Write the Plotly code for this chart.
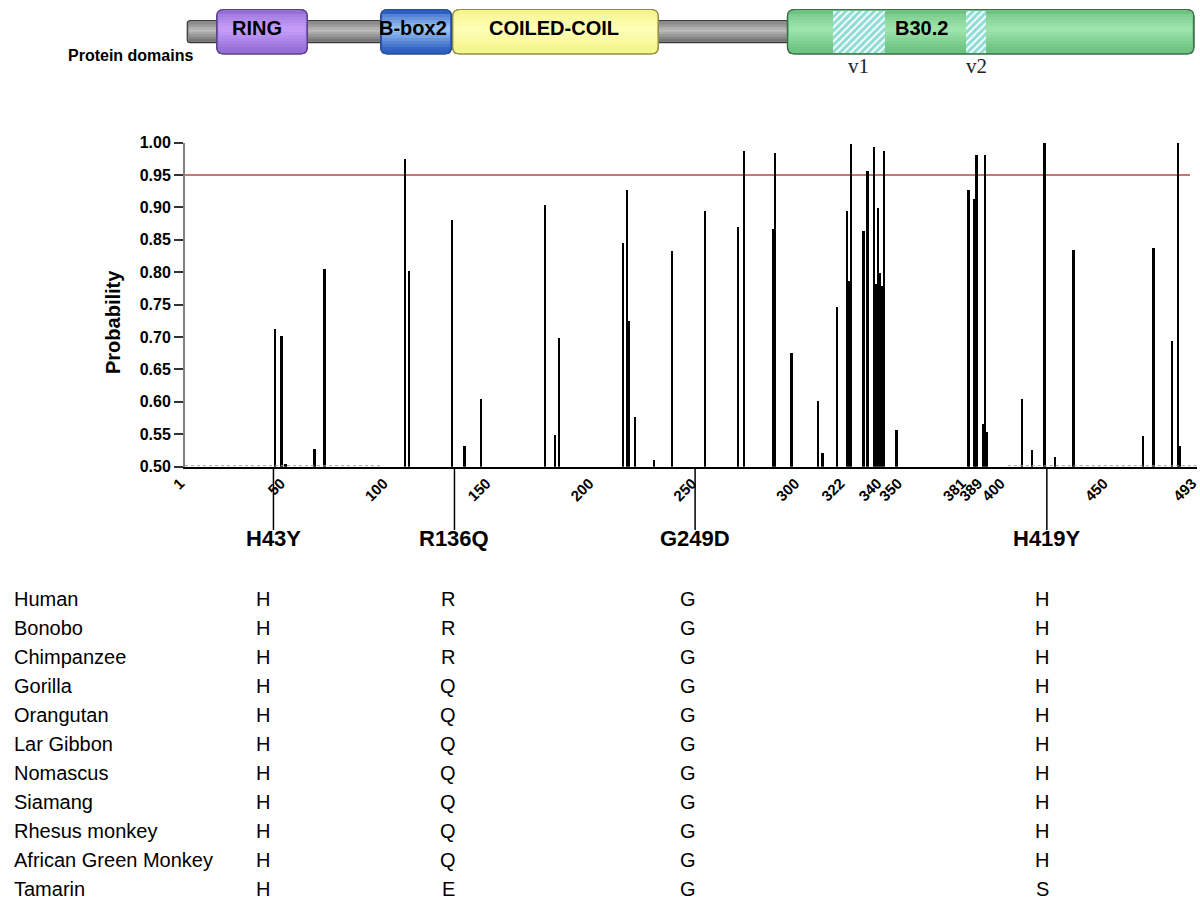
import plotly.graph_objects as go

# ---------------- data ----------------
positions = [45, 48, 50, 64, 69, 108, 110, 131, 137, 145, 176, 181, 183,
             214, 216, 217, 220, 229, 238, 254, 270, 273, 287, 288, 296,
             309, 311, 318, 323, 324, 325, 331, 333, 336, 337, 338, 339,
             340, 341, 347, 382, 385, 386, 389, 390, 391, 408, 413, 419,
             424, 433, 467, 472, 481, 484, 485]
probabilities = [0.713, 0.702, 0.505, 0.528, 0.805, 0.976, 0.803, 0.881, 0.532,
                 0.605, 0.904, 0.550, 0.699, 0.846, 0.928, 0.725, 0.578, 0.511,
                 0.834, 0.895, 0.871, 0.988, 0.867, 0.985, 0.676, 0.602, 0.522,
                 0.747, 0.895, 0.787, 0.999, 0.864, 0.957, 0.994, 0.782, 0.900,
                 0.800, 0.780, 0.988, 0.557, 0.927, 0.913, 0.981, 0.567, 0.981,
                 0.554, 0.605, 0.527, 1.000, 0.515, 0.835, 0.548, 0.838, 0.695,
                 1.000, 0.533]
low_prob_start = [1, 401]
low_prob_end = [97, 493]
low_prob_value = 0.5015
threshold = 0.95

x_tick_vals = [1, 50, 100, 150, 200, 250, 300, 322, 340, 350, 381, 389, 400, 450, 493]
y_tick_vals = [0.50, 0.55, 0.60, 0.65, 0.70, 0.75, 0.80, 0.85, 0.90, 0.95, 1.00]
y_tick_text = ["0.50", "0.55", "0.60", "0.65", "0.70", "0.75", "0.80", "0.85",
               "0.90", "0.95", "1.00"]

domain_names = ["RING", "B-box2", "COILED-COIL", "B30.2"]
domain_start = [16.4, 96.1, 131.1, 293.9]
domain_end = [60.5, 130.6, 231.1, 491.5]
domain_label_pos = [36.2, 111.8, 180.2, 359.0]
domain_edge_fill = [(150, 110, 215), (45, 95, 195), (245, 245, 140), (110, 195, 130)]
domain_mid_fill = [(200, 160, 250), (160, 200, 245), (255, 255, 185), (160, 230, 175)]
domain_edges = ["#5b4283", "#2b4d8f", "#8f8f4a", "#3c6e48"]
backbone_start = 2.1
backbone_end = 491.0

var_names = ["v1", "v2"]
var_start = [316.0, 380.9]
var_end = [341.3, 390.4]

mutations = ["H43Y", "R136Q", "G249D", "H419Y"]
mutation_pos = [44, 132, 249, 420]

species = ["Human", "Bonobo", "Chimpanzee", "Gorilla", "Orangutan", "Lar Gibbon",
           "Nomascus", "Siamang", "Rhesus monkey", "African Green Monkey", "Tamarin"]
res_43 = ["H", "H", "H", "H", "H", "H", "H", "H", "H", "H", "H"]
res_136 = ["R", "R", "R", "Q", "Q", "Q", "Q", "Q", "Q", "Q", "E"]
res_249 = ["G", "G", "G", "G", "G", "G", "G", "G", "G", "G", "G"]
res_419 = ["H", "H", "H", "H", "H", "H", "H", "H", "H", "H", "S"]

# ---------------- layout helpers ----------------
W, H = 1200, 900
FONT = "Liberation Sans, Arial, sans-serif"
XPX = 1012 / 492  # pixels per residue


def py(p):
    return 1 - p / H


def px(p):
    return p / W


def rgb(c):
    return f"rgb({int(c[0])},{int(c[1])},{int(c[2])})"


def mix(a, b, t):
    return tuple(a[i] + (b[i] - a[i]) * t for i in range(3))


fig = go.Figure()

# low-probability background (dotted)
for s, e in zip(low_prob_start, low_prob_end):
    fig.add_trace(go.Scatter(x=[s, e], y=[low_prob_value, low_prob_value], mode="lines",
                             line=dict(color="#9a9a9a", width=1, dash="dot"),
                             hoverinfo="skip", showlegend=False))

fig.add_trace(go.Bar(x=positions, y=probabilities, width=0.9,
                     marker=dict(color="black", line=dict(width=0)),
                     showlegend=False))

# hatch variable regions (on top axis)
fig.add_trace(go.Bar(x=[(s + e) / 2 for s, e in zip(var_start, var_end)],
                     y=[1, 1], base=[0, 0],
                     width=[e - s for s, e in zip(var_start, var_end)],
                     marker=dict(color="#8fdcd6", line=dict(width=0),
                                 pattern=dict(shape="/", fgcolor="white", bgcolor="#8fdcd6",
                                              size=5, solidity=0.35)),
                     xaxis="x2", yaxis="y2", showlegend=False, hoverinfo="skip"))

shapes = []
annotations = []

# threshold line
shapes.append(dict(type="line", xref="x", yref="y", x0=1, x1=489.6, y0=threshold, y1=threshold,
                   line=dict(color="#c97575", width=2), layer="below"))


def rounded(x0, x1, y0, y1, rpx=6):
    rx = rpx / XPX
    ry = rpx / H
    return (f"M {x0+rx},{y1} L {x1-rx},{y1} Q {x1},{y1} {x1},{y1-ry} "
            f"L {x1},{y0+ry} Q {x1},{y0} {x1-rx},{y0} L {x0+rx},{y0} "
            f"Q {x0},{y0} {x0},{y0+ry} L {x0},{y1-ry} Q {x0},{y1} {x0+rx},{y1} Z")


def gradient_bands(x0, x1, top, bottom, edge, mid, n=10, inset_px=2):
    out = []
    h = (bottom - top) / n
    for k in range(n):
        c = (k + 0.5) / n
        t = max(0.0, 1 - abs(c - 0.42) / 0.58)
        col = mix(edge, mid, t)
        out.append(dict(type="rect", xref="x", yref="paper",
                        x0=x0 + inset_px / XPX, x1=x1 - inset_px / XPX,
                        y0=py(top + (k + 1) * h + 0.3), y1=py(top + k * h),
                        fillcolor=rgb(col), line=dict(width=0), layer="below"))
    return out


# backbone
shapes.append(dict(type="path", xref="x", yref="paper",
                   path=rounded(backbone_start, backbone_end, py(42.7), py(20.5), 3),
                   fillcolor="#8a8a8a", line=dict(color="#3a3a3a", width=1.2), layer="below"))
shapes += gradient_bands(backbone_start, backbone_end, 22, 41.5, (110, 110, 110),
                         (190, 190, 190), n=8, inset_px=1.5)
for n, s, e, ce, cm, ec in zip(domain_names, domain_start, domain_end,
                               domain_edge_fill, domain_mid_fill, domain_edges):
    shapes.append(dict(type="path", xref="x", yref="paper",
                       path=rounded(s, e, py(54), py(9.5), 7),
                       fillcolor=rgb(ce), line=dict(color=ec, width=1.2), layer="below"))
    shapes += gradient_bands(s, e, 14, 50, ce, cm, n=12, inset_px=1.5)
for s, e, ec in zip(domain_start, domain_end, domain_edges):
    shapes.append(dict(type="path", xref="x", yref="paper",
                       path=rounded(s, e, py(54), py(9.5), 7),
                       fillcolor="rgba(0,0,0,0)", line=dict(color=ec, width=1.2),
                       layer="below"))

for n, p in zip(domain_names, domain_label_pos):
    annotations.append(dict(text=f"<b>{n}</b>", x=p, y=py(28.5), xref="x", yref="paper",
                            showarrow=False, font=dict(family=FONT, size=20, color="black"),
                            xanchor="center", yanchor="middle"))
for n, s, e in zip(var_names, var_start, var_end):
    annotations.append(dict(text=n, x=(s + e) / 2, y=py(66), xref="x", yref="paper",
                            showarrow=False,
                            font=dict(family="Liberation Serif, Times New Roman, serif",
                                      size=21, color="#222"),
                            xanchor="center", yanchor="middle"))
annotations.append(dict(text="<b>Protein domains</b>", x=px(195), y=py(55), xref="paper",
                        yref="paper", showarrow=False, xanchor="right", yanchor="middle",
                        font=dict(family=FONT, size=16, color="black")))

# y-axis title
annotations.append(dict(text="<b>Probability</b>", x=px(113), y=py(322), xref="paper",
                        yref="paper", showarrow=False, textangle=-90,
                        font=dict(family=FONT, size=20, color="black"),
                        xanchor="center", yanchor="middle"))

# mutation markers
for m, p in zip(mutations, mutation_pos):
    shapes.append(dict(type="line", xref="x", yref="paper", x0=p, x1=p,
                       y0=py(467), y1=py(530), line=dict(color="black", width=1.5)))
    annotations.append(dict(text=f"<b>{m}</b>", x=p, y=py(538), xref="x", yref="paper",
                            showarrow=False, font=dict(family=FONT, size=22, color="black"),
                            xanchor="center", yanchor="middle"))

# species table
col_x = [263, 448, 688, 1042]
for i, sp in enumerate(species):
    yy = py(599 + 29 * i)
    annotations.append(dict(text=sp, x=px(12), y=yy, xref="paper", yref="paper",
                            showarrow=False, xanchor="left", yanchor="middle",
                            font=dict(family=FONT, size=20, color="black")))
    for cx, col in zip(col_x, [res_43, res_136, res_249, res_419]):
        annotations.append(dict(text=col[i], x=px(cx), y=yy, xref="paper", yref="paper",
                                showarrow=False, xanchor="center", yanchor="middle",
                                font=dict(family=FONT, size=20, color="black")))

fig.update_layout(
    template="none",
    width=W, height=H, autosize=False,
    margin=dict(l=0, r=0, t=0, b=0, pad=0),
    paper_bgcolor="white", plot_bgcolor="white",
    bargap=0, barmode="overlay",
    xaxis=dict(domain=[px(185), px(1197)], range=[1, 493], automargin=False,
               tickmode="array", tickvals=x_tick_vals, ticktext=[str(v) for v in x_tick_vals],
               tickangle=-45, ticks="", showgrid=False, zeroline=False,
               showline=True, linecolor="black", linewidth=2,
               ticklabeloverflow="allow", ticklabelshift=-5,
               tickfont=dict(family=FONT, size=15, color="black", weight="bold"),
               anchor="y"),
    yaxis=dict(domain=[py(466.7), py(142.5)], range=[0.5, 1.0], automargin=False,
               tickmode="array", tickvals=y_tick_vals, ticktext=y_tick_text,
               ticks="outside", ticklen=9, tickwidth=1.5, tickcolor="#333",
               showgrid=False, zeroline=False, showline=True, linecolor="#808080",
               linewidth=2, ticklabeloverflow="allow",
               tickfont=dict(family=FONT, size=16, color="black", weight="bold"),
               anchor="x"),
    xaxis2=dict(domain=[px(185), px(1197)], matches="x", visible=False, anchor="y2",
                automargin=False),
    yaxis2=dict(domain=[py(53), py(11)], range=[0, 1], visible=False, anchor="x2",
                automargin=False),
    shapes=shapes, annotations=annotations, showlegend=False,
)

fig.write_html(
    "out.html",
    config={"displayModeBar": False, "responsive": False},
    post_script=("document.documentElement.style.margin='0px';"
                 "document.body.style.margin='0px';"
                 "document.body.style.padding='0px';"
                 "var gd=document.getElementById('{plot_id}');"
                 "gd.style.position='fixed';gd.style.left='0px';gd.style.top='0px';"
                 "document.body.style.overflow='hidden';"
                 "document.documentElement.style.overflow='hidden';"),
)
